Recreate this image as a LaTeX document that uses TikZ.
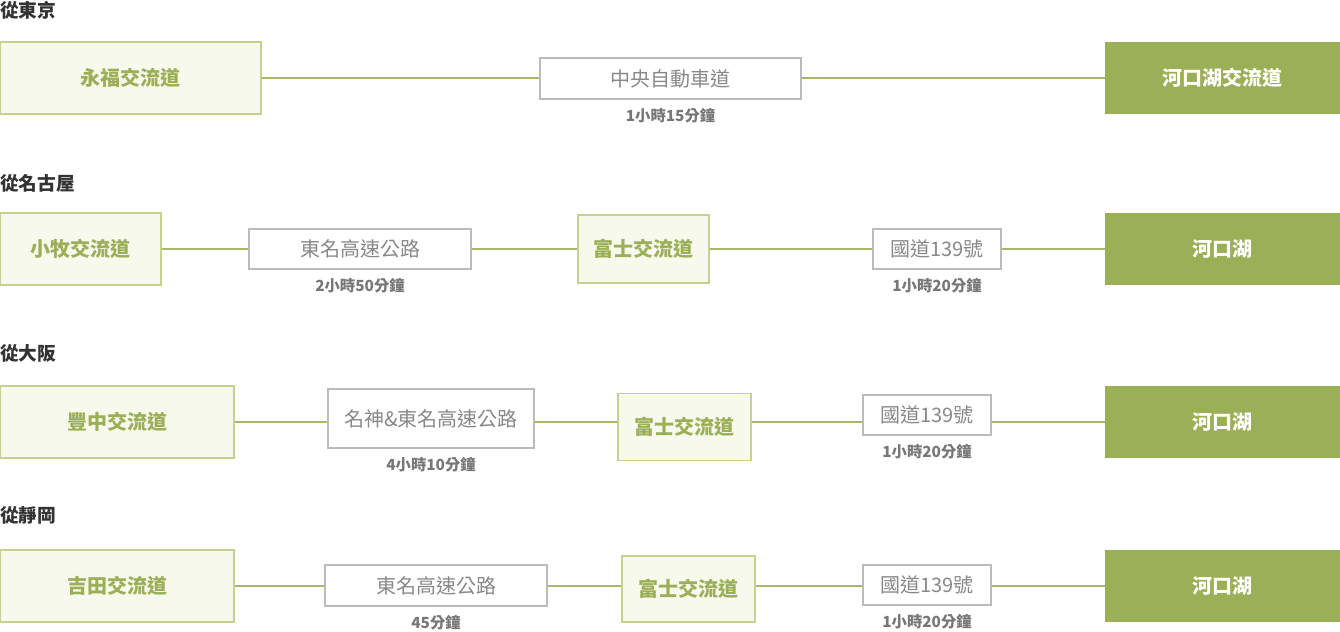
\documentclass[tikz,border=0pt]{standalone}
\usepackage{fontspec}
\setmainfont{Noto Sans CJK TC}
\usetikzlibrary{positioning}
\definecolor{leaf}{HTML}{9BAF57}
\definecolor{leafline}{HTML}{A6B86C}
\definecolor{leafedge}{HTML}{C3D38F}
\definecolor{leaffill}{HTML}{F6F9EC}
\definecolor{roadedge}{HTML}{BBBBBB}
\definecolor{roadtext}{HTML}{888888}
\definecolor{timetext}{HTML}{777777}
\definecolor{titletext}{HTML}{333333}
\tikzset{
	junction/.style={draw=leafedge, fill=leaffill, line width=0.9pt, text=leaf, font=\fontsize{15}{18}\selectfont\bfseries, inner sep=0pt},
	road/.style={draw=roadedge, fill=white, line width=0.8pt, text=roadtext, font=\fontsize{15}{18}\selectfont, inner sep=0pt},
	goal/.style={fill=leaf, text=white, font=\fontsize{15}{18}\selectfont\bfseries, inner sep=0pt, minimum width=176.25pt, minimum height=54pt},
	timelabel/.style={text=timetext, font=\fontsize{11.5}{14}\selectfont\bfseries, inner sep=0pt},
	rowtitle/.style={text=titletext, font=\fontsize{14}{17}\selectfont\bfseries, inner sep=0pt, anchor=west},
	link/.style={draw=leafline, line width=1.5pt}
}
\begin{document}
\begin{tikzpicture}[x=0.75pt, y=-0.75pt]
	\useasboundingbox (0,0) rectangle (1340,632);

	% from Tokyo
	\node[rowtitle] (t1) at (0,10) {從東京};
	\node[junction, minimum width=195.75pt, minimum height=54pt] (s1) at (130.5,78) {永福交流道};
	\node[road, minimum width=195.75pt, minimum height=30.75pt] (r1) at (670.5,78.5) {中央自動車道};
	\node[goal] (g1) at (1222.5,78) {河口湖交流道};
	\node[timelabel, below=6pt of r1] {1小時15分鐘};
	\draw[link] (s1.east) -- (s1.east -| r1.west);
	\draw[link] (r1.east |- s1) -- (g1.west |- s1);

	% from Nagoya
	\node[rowtitle] (t2) at (0,183) {從名古屋};
	\node[junction, minimum width=120.75pt, minimum height=54pt] (s2) at (80.5,249) {小牧交流道};
	\node[road, minimum width=166.5pt, minimum height=30pt] (r2) at (360,249) {東名高速公路};
	\node[junction, minimum width=98.25pt, minimum height=51pt] (f2) at (643.5,249) {富士交流道};
	\node[road, minimum width=96pt, minimum height=30pt] (n2) at (937,249) {國道139號};
	\node[goal] (g2) at (1222.5,249) {河口湖};
	\node[timelabel, below=6pt of r2] {2小時50分鐘};
	\node[timelabel, below=6pt of n2] {1小時20分鐘};
	\draw[link] (s2.east) -- (r2.west |- s2);
	\draw[link] (r2.east |- s2) -- (f2.west |- s2);
	\draw[link] (f2.east |- s2) -- (n2.west |- s2);
	\draw[link] (n2.east |- s2) -- (g2.west |- s2);

	% from Osaka
	\node[rowtitle] (t3) at (0,353) {從大阪};
	\node[junction, minimum width=175.5pt, minimum height=54pt] (s3) at (117,422) {豐中交流道};
	\node[road, minimum width=154.5pt, minimum height=44.25pt] (r3) at (431,418.5) {名神\&東名高速公路};
	\node[junction, minimum width=99.75pt, minimum height=50.25pt] (f3) at (684.5,427) {富士交流道};
	\node[road, minimum width=96pt, minimum height=30pt] (n3) at (927,415) {國道139號};
	\node[goal] (g3) at (1222.5,422) {河口湖};
	\node[timelabel, below=6pt of r3] {4小時10分鐘};
	\node[timelabel, below=6pt of n3] {1小時20分鐘};
	\draw[link] (s3.east) -- (r3.west |- s3);
	\draw[link] (r3.east |- s3) -- (f3.west |- s3);
	\draw[link] (f3.east |- s3) -- (n3.west |- s3);
	\draw[link] (n3.east |- s3) -- (g3.west |- s3);

	% from Shizuoka
	\node[rowtitle] (t4) at (0,515) {從靜岡};
	\node[junction, minimum width=175.5pt, minimum height=54pt] (s4) at (117,586) {吉田交流道};
	\node[road, minimum width=166.5pt, minimum height=30.75pt] (r4) at (436,585.5) {東名高速公路};
	\node[junction, minimum width=99.75pt, minimum height=49.5pt] (f4) at (688.5,589) {富士交流道};
	\node[road, minimum width=96pt, minimum height=30pt] (n4) at (927,585) {國道139號};
	\node[goal] (g4) at (1222.5,586) {河口湖};
	\node[timelabel, below=6pt of r4] {45分鐘};
	\node[timelabel, below=6pt of n4] {1小時20分鐘};
	\draw[link] (s4.east) -- (r4.west |- s4);
	\draw[link] (r4.east |- s4) -- (f4.west |- s4);
	\draw[link] (f4.east |- s4) -- (n4.west |- s4);
	\draw[link] (n4.east |- s4) -- (g4.west |- s4);
\end{tikzpicture}
\end{document}
